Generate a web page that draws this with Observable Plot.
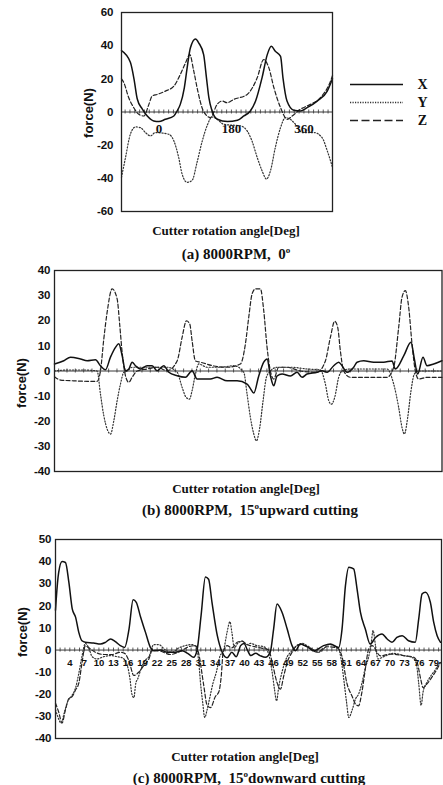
<!DOCTYPE html>
<html><head><meta charset="utf-8">
<script src="https://cdn.jsdelivr.net/npm/d3@7"></script>
<script src="https://cdn.jsdelivr.net/npm/@observablehq/plot@0.6"></script>
<style>
body{margin:0;background:#fff;}
#wrap{position:relative;width:443px;height:785px;overflow:hidden;background:#fff;}
.panel{position:absolute;left:0;}
.lbl{position:absolute;font-family:"Liberation Serif","Times New Roman",serif;font-weight:bold;color:#111;white-space:nowrap;transform:translate(-50%,-50%);}
.ylab{position:absolute;font-family:"Liberation Sans",Arial,sans-serif;font-weight:bold;font-size:13px;color:#111;white-space:nowrap;transform:translate(-50%,-50%) rotate(-90deg);}
sup{font-size:9px;vertical-align:6px;}
</style></head><body><div id="wrap"></div>
<script>
// ---------- Panel (a): 8000RPM, 0 deg ----------
const aDegX = [-93,-71,-62,-54,-42,-29,-13,0,16,37,45,53,63,70,78,91,99,111,118,124,132,145,170,195,211,227,240,256,269,279,289,302,308,318,335,351,368,393,418,431];
const aX = [37,30,20,8,2,-2.4,-5.4,-5.8,-4.4,-2.4,0.6,4.6,14.6,26.6,38.6,44,41.6,34.6,20.6,8.6,0.6,-4.4,-5.8,-5,-2.4,0.6,6.6,20.6,34.6,39.6,36.6,33.6,20.6,6.6,1,0.6,2.6,6.6,12.6,20];
const aDegY = [-93,-83,-71,-58,-46,-33.5,-21,-9,24,37,49,57.5,70,82,95,107,120,132,144.5,161,202.5,219,231,244,256,267,277,289,302,314,326,339,356,385,405,418,431];
const aY = [-39.4,-27.4,-13.4,-9,-9.4,-12.4,-14.4,-12.4,-13.4,-17.4,-27.4,-37.4,-42.4,-41.4,-30,-18,-8,-3,-4.4,-7.4,-8.4,-11.4,-17.4,-27.4,-35.4,-40.4,-35.4,-21.4,-9.4,-3.4,-4.4,-7.4,-12.4,-12.4,-15.4,-23.4,-33.4];
const aDegZ = [-93,-87,-75,-62.5,-50,-37.5,-25,-17,-4.5,16,37,53,66,76.5,86.5,96.5,107,119.5,128,144.5,157,169,186,219,244,260,273,285.5,302,318.5,331,351,376,401,426,431];
const aZ = [20,17.6,8.6,2.6,-1.4,-2.4,4.6,9.6,10.6,12.6,15.6,22.6,29.6,34.6,24.6,12.6,2.6,-2.4,-3.4,4.6,6.6,5.6,7.6,10.6,20.6,31.6,26.6,14.6,2.6,-4.4,-2.4,1.6,4.6,8.6,18.6,22];
const aTickLabels = [0,180,360];
const aYTicks = [-60,-40,-20,0,20,40,60];

// ---------- Panel (b): 8000RPM, 15 deg upward ----------
const bSampleX = [0,2.8,4.8,7.8,9.8,12.3,13.8,15.3,16.8,18.3,19.3,20.3,21.3,22.3,23.3,24.3,25.8,27.8,29.3,30.8,32.8,34.3,36.8,39.3,41.3,42.8,46.8,48.8,51.8,54.8,57.8,58.8,59.8,61.3,62.8,63.8,64.8,65.8,66.8,68.3,70.8,72.8,74.3,75.8,78.8,80.3,81.8,83.8,85.3,86.3,87.8,89.8,90.8,92.8,95.8,98.8,101.3,102.3,104.8,107,108,109,110.6,111.8,113.8,116.3];
const bX = [2.8,4.1,5.5,4.8,4.1,4.5,2.1,0.5,5.5,9.4,10.8,6.1,0.1,0.8,3.5,2.1,0.8,2.1,2.1,0.1,2.1,-0.5,-1.9,-2.5,0.1,-3.2,-3.2,-2.5,-3.9,-3.9,-5.2,-7,-8.8,-2,3.5,4.8,-1.9,-5.9,-2,-1.2,-2,-0.5,-2.5,-1.2,-0.5,0.1,-0.5,2.1,3.5,2.1,-0.5,1.5,3.5,4.1,3.5,3.5,4,0.8,6,11.4,4.8,-1.2,5.5,2.1,2.8,4.1];
const bSampleY = [0,3.8,8.8,12.8,13.8,14.8,16,16.8,17.8,18.8,19.8,20.8,21.8,23.3,26.8,30.8,33.8,36.8,38.3,39.5,40.5,41.3,42.3,43.3,45.8,49.8,53.8,56.8,57.8,58.8,59.8,60.6,61.6,62.6,63.6,64.8,66.8,70.8,75.8,79.8,81.3,82.3,83.1,84.1,85.3,86.3,88.8,93.8,99.8,101.8,103.3,104.3,105,106,107,108,109.3,116.3];
const bY = [0,0.4,0.4,0,-9.2,-17.8,-23.8,-25.1,-19.8,-11.8,-5.2,-0.5,0,1.5,1.5,1.5,1.5,-0.5,-6.5,-10.5,-11.2,-7.8,-1.2,2.8,1.5,1.5,2.1,-0.5,-9.2,-18.5,-25,-27.8,-22.5,-11.8,-2.5,0,1.5,1.5,0.8,0.4,-5.2,-11.8,-13.2,-10.5,-2.5,0,0.8,0.8,0.8,-5.2,-14.5,-22.5,-25.1,-18.5,-7.8,-1.2,0,0];
const bSampleZ = [0,1.8,5.8,9.8,12.8,13.8,14.8,15.8,17.3,18.8,19.6,20.3,21.3,22.3,23.3,24.8,27.8,30.8,33.8,36.8,38.3,39.6,40.6,41.3,42.3,43.8,47.8,51.8,55.8,57.3,58.3,59.3,60.3,61.8,62.8,63.8,64.8,65.8,67.3,69.8,73.8,78.8,81.3,82.8,84.1,85,85.8,86.8,88.8,91.8,95.8,99.8,101.8,103.3,104.3,105.3,106.3,107.3,108.3,109.3,111.8,116.3];
const bZ = [-2.3,-3.6,-3.9,-4.1,-4.1,0.1,12.8,23.4,32.7,28.7,18,7.4,-1.9,-4.5,-2.5,0,0.8,1.5,0.1,4,13.4,20,18.7,12,4,3.5,2,1.5,2.8,10.8,21.4,30.7,32.7,32.7,24,9.4,0,-3.2,1.5,1.5,0,-0.5,4,13.4,19.8,17.4,8,0,-2.5,-2.5,-2.5,-2.5,1.5,17.4,29.4,32,25.4,10.8,0,-3.2,-2.5,-2.5];
const bYTicks = [-40,-30,-20,-10,0,10,20,30,40];

// ---------- Panel (c): 8000RPM, 15 deg downward ----------
const cIdxX = [1.05,1.2,1.7,2.4,3.1,3.8,4.5,5.2,5.85,6.5,7.2,8.9,10.3,11.35,12.4,13.4,14.4,15.3,16.2,17.05,17.7,18.6,19.6,20.6,21.3,22.7,24.05,25.8,27.1,28.5,29.5,30.2,31.05,31.95,32.6,33.3,34.4,35.4,36.4,37.4,38.3,39.2,39.9,40.6,41.3,42.3,43.2,44.3,45.3,46.0,46.7,47.75,48.8,49.8,50.5,51.5,52.55,54.3,56.3,57.7,59.4,60.1,60.8,61.5,62.5,63.2,63.9,64.9,65.9,67.0,68.35,69.4,70.4,71.4,72.5,73.8,75.2,75.9,76.6,77.3,78.3,79.0,79.7,80.4];
const cX = [18,23,35,40,39.6,30.7,18.6,14.8,8,4.2,3.5,3.2,2.7,3.5,5,3.8,2,1.2,9.5,22.8,21.6,14.8,8,1.2,-0.3,0,-1,-1,-0.3,-1.8,-3.3,-0.3,15.6,33,32,21.6,6.5,-1,-3.5,-1,-3,2,3,0,-2.5,-1.5,-2.5,-3.3,-1,9.5,20.8,17,9.5,2,-0.3,2.7,2,-0.3,2,2.7,1.2,9.5,29,37.5,36.7,27.6,17,9.5,2.7,5.7,7.3,5,3.5,5.7,6.5,4.2,3.5,14,25.4,26.1,21.6,12.5,6.5,3.5];
const cIdxY = [1.05,1.5,2.2,2.9,3.6,4.3,5.2,5.9,6.5,7.2,7.9,8.6,9.6,11.0,12.4,13.75,14.8,15.7,16.4,16.8,17.2,17.6,18.0,18.6,19.4,20.3,21.3,22.3,23.7,25.1,26.5,27.8,29.2,30.1,30.6,30.9,31.4,31.8,32.3,32.8,33.5,34.2,34.9,35.7,36.4,37.0,37.4,37.9,38.6,39.5,40.5,41.2,42.6,44.0,45.0,45.7,46.2,46.6,47.1,47.5,48.1,48.8,49.5,50.8,51.9,52.9,54.3,55.3,56.3,57.4,58.4,59.4,59.9,60.5,61.0,61.5,62.2,62.9,63.5,64.2,64.9,65.6,66.1,66.5,67.0,67.5,68.7,70.8,72.8,74.5,75.4,75.9,76.4,76.8,77.5,78.3,79.3,80.4];
const cY = [-27,-30,-33,-28,-23,-21,-17,-10,-3,3,1,-3,-4,-3,-2.5,-3,-3.5,-6,-13,-20,-21.5,-15,-13,-9,-5,-3,2.5,2.5,0,-1,1,2,2.5,1,-6,-14,-24,-30.5,-27,-22,-15,-10,-3,0,8,12.8,8,1,3,4,2.5,3,2,1.5,-2,-10,-18,-23,-16,-12,-7,-3,-1,2,3,2,0,-1,0.5,2.5,2,0.5,-4,-14,-23,-30.5,-27,-22,-20,-15,-8,-3,3,8.8,2,-4,-3,-1.5,-2.5,-3.3,-6,-15,-25,-19,-15,-12,-9,-5];
const cIdxZ = [1.05,1.7,2.4,3.1,3.8,4.5,5.2,5.85,6.5,7.2,7.9,9.3,11.0,12.7,14.4,15.3,16.2,17.2,18.2,19.25,20.3,21.0,22.7,24.7,26.8,28.5,29.9,30.6,31.6,32.3,33.0,34.0,34.7,35.2,35.6,36.4,37.4,38.5,39.5,40.5,41.2,43.3,45.0,45.7,46.7,47.4,48.1,48.8,49.8,51.2,52.9,55.0,57.0,59.1,60.1,61.1,62.2,62.9,63.5,64.2,64.9,65.6,66.3,68.0,70.1,72.8,74.9,75.6,76.3,76.8,77.6,78.7,79.7,80.4];
const cZ = [-24,-28,-33,-27,-22,-21,-18,-15,-6,2,1,-1,-2,-2,-1,-1.5,-5,-11.5,-10,-7,-4,0,-0.5,-2,-0.5,1.5,2,-2,-16,-25,-26,-21,-19,-12,-1,2,1,3.5,4,2.5,2,1,0,-5.5,-14.7,-17.7,-11.6,-5.6,-1,2.5,1.5,-1,1.5,1,-3,-15,-21,-24.5,-25.2,-19,-8.6,0.5,2,-2.6,-1.8,-2.5,-3.3,-5.6,-13,-17,-15.3,-12,-8.6,-5.6];
const cTickLabels = [4,7,10,13,16,19,22,25,28,31,34,37,40,43,46,49,52,55,58,61,64,67,70,73,76,79];
const cYTicks = [-40,-30,-20,-10,0,10,20,30,40,50];

const legendKeys = ["X","Y","Z"];

// ---------- styles ----------
const STY = {
  X: {stroke:"#111", strokeWidth:1.5},
  Y: {stroke:"#333", strokeWidth:1.2, strokeDasharray:"1.2,1.8"},
  Z: {stroke:"#222", strokeWidth:1.2, strokeDasharray:"4,2.2"}
};
const zip = (xs, ys) => xs.map((x, i) => ({x, y: ys[i]}));
const wrap = document.getElementById("wrap");

function panel(o) {
  const marks = [
    Plot.ruleY([0], {stroke:"#222", strokeWidth:0.9}),
    Plot.ruleX(o.minor, {x: d => d, y1: 0, y2: 0, insetTop: -2, insetBottom: -2, stroke:"#333", strokeWidth:0.8}),
    Plot.line(zip(o.zx, o.zv), {x:"x", y:"y", curve:"monotone-x", ...STY.Z}),
    Plot.line(zip(o.yx, o.yv), {x:"x", y:"y", curve:"monotone-x", ...STY.Y}),
    Plot.line(zip(o.xx, o.xv), {x:"x", y:"y", curve:"monotone-x", ...STY.X}),
    Plot.frame({stroke:"#222", strokeWidth:1.3})
  ];
  if (o.tickText) marks.push(Plot.text(o.tickText, {x: d => d, y: 0, dy: o.tickDy, text: d => String(d),
      fontFamily: o.tickFont, fontSize: o.tickSize, fontWeight: "bold", fill:"#111"}));
  const svg = Plot.plot({
    width: 443, height: o.height,
    marginLeft: o.mL, marginRight: o.mR, marginTop: o.mT, marginBottom: o.mB,
    style: {fontFamily:"Liberation Sans, Arial, sans-serif", fontSize:"11.5px", fontWeight:"bold", color:"#111", background:"transparent", overflow:"visible"},
    x: {domain: o.xDomain, axis: null},
    y: {domain: o.yDomain, ticks: o.yTicks, tickSize: 0, tickPadding: o.pad, label: null, tickFormat: d => String(d)},
    marks
  });
  svg.classList.add("panel");
  svg.style.top = o.top + "px";
  svg.style.position = "absolute";
  wrap.appendChild(svg);
}

panel({top:0, height:260, mL:121, mR:111, mT:12, mB:49, xDomain:[-93,431], yDomain:[-60,60], yTicks:aYTicks, pad:8,
  minor: d3.range(-84, 426, 12),
  xx:aDegX, xv:aX, yx:aDegY, yv:aY, zx:aDegZ, zv:aZ,
  tickText:aTickLabels, tickDy:17, tickFont:"Liberation Serif, Times New Roman, serif", tickSize:13});

panel({top:260, height:260, mL:54, mR:1.5, mT:10, mB:49, xDomain:[0,116.3], yDomain:[-40,40], yTicks:bYTicks, pad:4,
  minor: d3.range(1.25, 116, 2.5),
  xx:bSampleX, xv:bX, yx:bSampleY, yv:bY, zx:bSampleZ, zv:bZ});

panel({top:530, height:255, mL:55, mR:2, mT:9, mB:47, xDomain:[1.05,80.6], yDomain:[-40,50], yTicks:cYTicks, pad:4,
  minor: d3.range(2, 81, 1),
  xx:cIdxX, xv:cX, yx:cIdxY, yv:cY, zx:cIdxZ, zv:cZ,
  tickText:cTickLabels, tickDy:13, tickFont:"Liberation Sans, Arial, sans-serif", tickSize:9.5});

// legend for panel (a)
const leg = Plot.plot({
  width: 100, height: 64, margin: 0,
  style: {background:"transparent", overflow:"visible"},
  x: {domain:[0,100], range:[0,100], axis:null},
  y: {type:"point", domain: legendKeys, range:[13,50], padding:0, axis:null},
  marks: legendKeys.flatMap(k => [
    Plot.ruleY([k], {y: d => d, x1: 10, x2: 63, ...STY[k], strokeWidth: k === "X" ? 1.6 : 1.4,
      strokeDasharray: k === "Z" ? "8,3.5" : (k === "Y" ? "1.2,1.3" : null)}),
    Plot.text([k], {y: d => d, x: 82, text: d => d, fontFamily:"Liberation Serif, Times New Roman, serif", fontSize:14, fontWeight:"bold", fill:"#111"})
  ])
});
leg.style.position = "absolute"; leg.style.left = "340px"; leg.style.top = "70px";
wrap.appendChild(leg);

// text labels
function label(html, cls, x, y, size) {
  const d = document.createElement("div");
  d.className = cls; d.innerHTML = html;
  d.style.left = x + "px"; d.style.top = y + "px";
  if (size) d.style.fontSize = size + "px";
  wrap.appendChild(d);
}
label("force(N)", "ylab", 88, 113);
label("Cutter rotation angle[Deg]", "lbl", 226, 231, 13);
label("(a) 8000RPM,&nbsp;&nbsp;0<sup>o</sup>", "lbl", 236, 254, 15);
label("force(N)", "ylab", 21, 383);
label("Cutter rotation angle[Deg]", "lbl", 246, 489, 13);
label("(b) 8000RPM,&nbsp;&nbsp;15<sup>o</sup>upward cutting", "lbl", 250, 510, 15);
label("force(N)", "ylab", 22, 632);
label("Cutter rotation angle[Deg]", "lbl", 245, 757, 13);
label("(c) 8000RPM,&nbsp;&nbsp;15<sup>o</sup>downward cutting", "lbl", 249, 778, 15);
</script></body></html>
